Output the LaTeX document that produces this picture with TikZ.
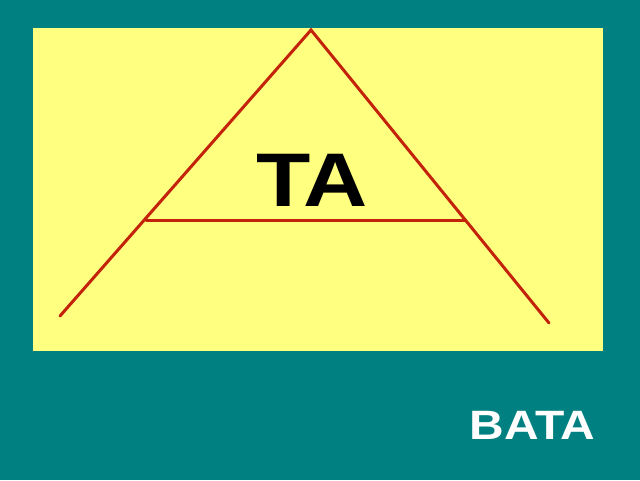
\documentclass[tikz,border=0pt]{standalone}
\usepackage{fontspec}
\setmainfont{Liberation Sans}
\definecolor{bgteal}{RGB}{0,128,128}
\definecolor{paleyellow}{RGB}{255,255,128}
\definecolor{linered}{RGB}{195,35,10}
\begin{document}
\begin{tikzpicture}[x=1pt,y=-1pt,
  redline/.style={draw=linered,line width=3pt,line cap=round},
  bigword/.style={font=\fontsize{76}{76}\selectfont\bfseries,text=black,inner sep=0pt,xscale=1.17},
  corner/.style={font=\fontsize{41}{41}\selectfont\bfseries,text=white,inner sep=0pt,xscale=1.17}]
\fill[bgteal] (0,0) rectangle (640,480);
\useasboundingbox (0,0) rectangle (640,480);
\fill[paleyellow] (33,28) rectangle (603,351);
\coordinate (apex) at (311,30);
\coordinate (leftend) at (60,316);
\coordinate (rightend) at (549,323);
\coordinate (barleft) at (146,220);
\coordinate (barright) at (465,220);
\draw[redline] (leftend) -- (apex) -- (rightend);
\draw[redline] (barleft) -- (barright);
\node[bigword] (ta) at (312,180.5) {TA};
\node[corner] (bata) at (532.5,425) {BATA};
\end{tikzpicture}
\end{document}
